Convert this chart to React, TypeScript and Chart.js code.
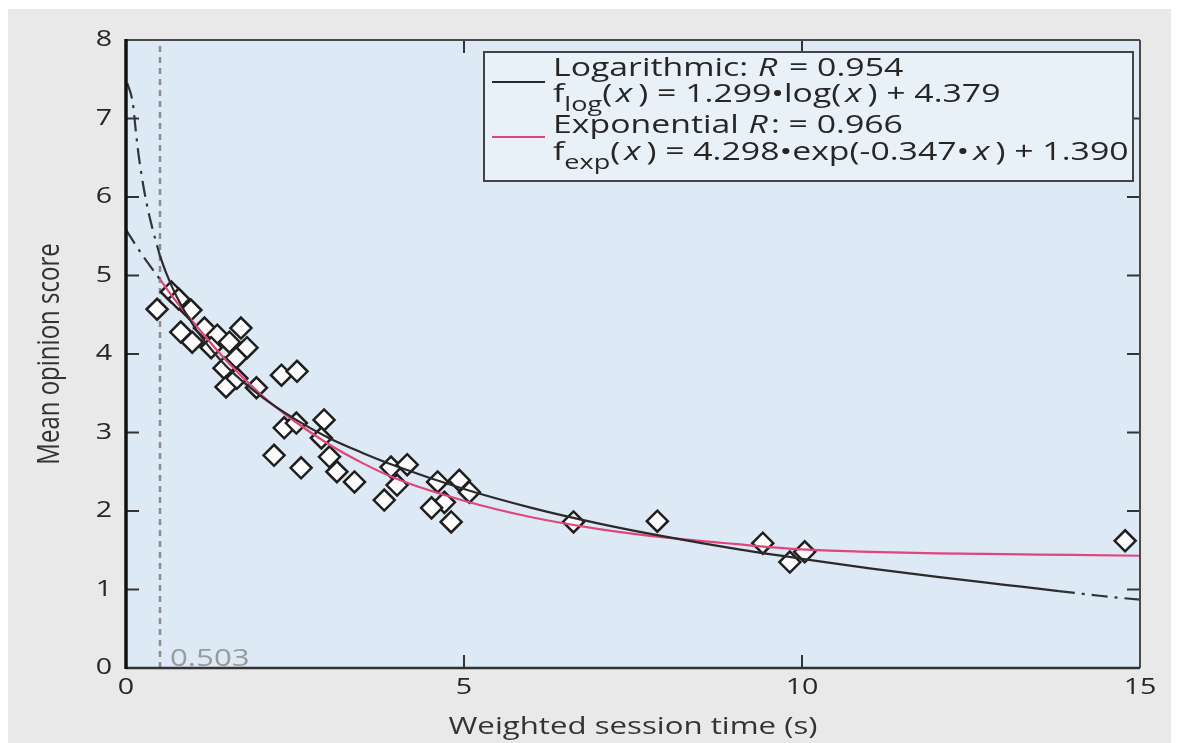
import React, { useEffect, useRef } from "react";
import { Chart, registerables } from "chart.js";

Chart.register(...registerables);

// ---------- data ----------
const sessionTime = [
  0.46, 0.67, 0.78, 0.96, 0.81, 0.98, 1.16, 1.35, 1.53, 1.7, 1.79, 1.63, 1.26, 1.45, 1.48, 1.93,
  1.64, 2.3, 2.53, 2.34, 2.52, 2.93, 2.89, 2.19, 2.59, 3.01, 3.12, 3.38, 3.92, 4.16, 4.01, 3.82,
  4.61, 4.93, 5.08, 4.71, 4.52, 4.81, 6.62, 7.86, 9.42, 10.04, 9.82, 14.78,
];
const opinionScore = [
  4.57, 4.79, 4.7, 4.56, 4.28, 4.15, 4.33, 4.24, 4.15, 4.33, 4.08, 3.95, 4.08, 3.82, 3.58, 3.57,
  3.69, 3.73, 3.78, 3.06, 3.12, 3.16, 2.93, 2.71, 2.55, 2.69, 2.5, 2.37, 2.56, 2.59, 2.33, 2.14,
  2.37, 2.39, 2.24, 2.11, 2.04, 1.86, 1.86, 1.87, 1.59, 1.48, 1.35, 1.62,
];

// logarithmic fit curve
const logX = [0.503, 0.6, 0.75, 1, 1.25, 1.5, 2, 2.5, 3, 3.5, 4, 5, 6, 7, 8, 9, 10, 11, 12, 13, 13.8];
const logY = [5.25, 5.02, 4.73, 4.36, 4.07, 3.83, 3.46, 3.17, 2.93, 2.74, 2.57, 2.28, 2.04, 1.84, 1.67, 1.52, 1.39, 1.27, 1.16, 1.06, 0.98];
const logLeftX = [0.02, 0.1, 0.15, 0.2, 0.3, 0.4, 0.503];
const logLeftY = [7.45, 7.2, 6.8, 6.45, 5.94, 5.57, 5.25];
const logRightX = [13.8, 14.4, 15];
const logRightY = [0.98, 0.92, 0.87];

// exponential fit curve
const expX = [0.503, 0.75, 1, 1.5, 2, 2.5, 3, 3.5, 4, 5, 6, 7, 8, 9, 10, 11, 12, 13, 14, 15];
const expY = [4.95, 4.66, 4.4, 3.9, 3.48, 3.14, 2.85, 2.61, 2.41, 2.13, 1.92, 1.77, 1.66, 1.58, 1.51, 1.48, 1.46, 1.45, 1.44, 1.43];
const expLeftX = [0, 0.25, 0.503];
const expLeftY = [5.58, 5.25, 4.95];

const xMin = 0;
const xMax = 15;
const xStep = 5;
const yMin = 0;
const yMax = 8;
const yStep = 1;

const xTitle = "Weighted session time (s)";
const yTitle = "Mean opinion score";
const threshold = 0.503;
const thresholdLabel = "0.503";

// legend lines: [text, style]  style: n = normal, i = italic, s = subscript
const legendLog1: [string, string][] = [["Logarithmic: ", "n"], ["R", "i"], [" = 0.954", "n"]];
const legendLog2: [string, string][] = [["f", "n"], ["log", "s"], ["(", "n"], ["x", "i"], [") = 1.299\u2022log(", "n"], ["x", "i"], [") + 4.379", "n"]];
const legendExp1: [string, string][] = [["Exponential ", "n"], ["R", "i"], [": = 0.966", "n"]];
const legendExp2: [string, string][] = [["f", "n"], ["exp", "s"], ["(", "n"], ["x", "i"], [") = 4.298\u2022exp(-0.347\u2022", "n"], ["x", "i"], [") + 1.390", "n"]];

// ---------- styles ----------
const FONT = '"Open Sans", "DejaVu Sans", sans-serif';
const SX = 1.3; // horizontal stretch of the reference text
const PLOT_BG = "#dde9f4";
const LEGEND_BG = "#e9f1f8";
const PAGE_BG = "#e9e9e9";
const PINK = "#e0457b";
const BLACK = "#2a2a2a";
const TEXT = "#262626";

function drawText(
  ctx: CanvasRenderingContext2D,
  text: string,
  x: number,
  y: number,
  size: number,
  color: string,
  align: "left" | "center" | "right",
  baseline: CanvasTextBaseline,
  italic = false
) {
  ctx.save();
  ctx.font = `${italic ? "italic " : ""}${size}px ${FONT}`;
  ctx.fillStyle = color;
  ctx.textBaseline = baseline;
  ctx.textAlign = "left";
  const w = ctx.measureText(text).width * SX;
  let left = x;
  if (align === "center") left = x - w / 2;
  else if (align === "right") left = x - w;
  ctx.translate(left, y);
  ctx.scale(SX, 1);
  ctx.fillText(text, 0, 0);
  ctx.restore();
  return w;
}

function drawRich(ctx: CanvasRenderingContext2D, parts: [string, string][], x: number, y: number, size: number) {
  let cx = x;
  for (const [t, s] of parts) {
    if (s === "s") {
      cx += drawText(ctx, t, cx, y + 9, size * 0.8, TEXT, "left", "alphabetic");
    } else if (s === "i") {
      const pad = t === "x" ? 4 : 1;
      cx += pad;
      cx += drawText(ctx, t, cx, y, size, TEXT, "left", "alphabetic", true);
      cx += pad + 2;
    } else {
      cx += drawText(ctx, t, cx, y, size, TEXT, "left", "alphabetic");
    }
  }
}

const decorPlugin = {
  id: "decor",
  beforeDraw(chart: any) {
    const { ctx, chartArea: a } = chart;
    ctx.save();
    ctx.fillStyle = PLOT_BG;
    ctx.fillRect(a.left, a.top, a.right - a.left, a.bottom - a.top);
    ctx.restore();
  },
  beforeDatasetsDraw(chart: any) {
    const { ctx, chartArea: a, scales } = chart;
    const px = scales.x.getPixelForValue(threshold);
    ctx.save();
    ctx.strokeStyle = "#8c8c8c";
    ctx.lineWidth = 2.5;
    ctx.setLineDash([6, 5]);
    ctx.beginPath();
    ctx.moveTo(px, a.bottom);
    ctx.lineTo(px, a.top);
    ctx.stroke();
    ctx.restore();
    drawText(ctx, thresholdLabel, px + 10, a.bottom - 2, 24, "#9a9a9a", "left", "alphabetic");
  },
  afterDraw(chart: any) {
    const { ctx, chartArea: a, scales } = chart;
    const xs = scales.x;
    const ys = scales.y;
    const line = (x1: number, y1: number, x2: number, y2: number) => {
      ctx.beginPath();
      ctx.moveTo(x1, y1);
      ctx.lineTo(x2, y2);
      ctx.stroke();
    };
    ctx.save();
    // inward tick marks
    ctx.strokeStyle = "#333";
    ctx.lineWidth = 2;
    ys.ticks.forEach((t: any) => {
      if (t.value <= yMin || t.value >= yMax) return;
      const py = ys.getPixelForValue(t.value);
      line(a.left, py, a.left + 13, py);
      line(a.right, py, a.right - 13, py);
    });
    xs.ticks.forEach((t: any) => {
      if (t.value <= xMin || t.value >= xMax) return;
      const px = xs.getPixelForValue(t.value);
      line(px, a.bottom, px, a.bottom - 13);
      line(px, a.top, px, a.top + 13);
    });
    // frame
    ctx.strokeStyle = "#4a4a4a";
    ctx.lineWidth = 2;
    line(a.left, a.top, a.right, a.top);
    line(a.right, a.top, a.right, a.bottom);
    ctx.strokeStyle = "#333";
    ctx.lineWidth = 2.5;
    line(a.left, a.bottom, a.right, a.bottom);
    ctx.strokeStyle = "#111";
    ctx.lineWidth = 3.5;
    line(a.left, a.top - 1, a.left, a.bottom + 1);
    ctx.restore();

    // tick labels
    ys.ticks.forEach((t: any) => {
      const py = ys.getPixelForValue(t.value);
      drawText(ctx, String(t.label ?? t.value), a.left - 14, py, 22, TEXT, "right", "middle");
    });
    xs.ticks.forEach((t: any) => {
      const px = xs.getPixelForValue(t.value);
      drawText(ctx, String(t.label ?? t.value), px, a.bottom + 9, 22, TEXT, "center", "top");
    });

    // axis titles
    drawText(ctx, xTitle, (a.left + a.right) / 2, a.bottom + 59, 24, "#333", "center", "middle");
    ctx.save();
    ctx.translate(42, (a.top + a.bottom) / 2);
    ctx.scale(SX, 1);
    ctx.rotate(-Math.PI / 2);
    ctx.font = `24px ${FONT}`;
    ctx.fillStyle = "#333";
    ctx.textAlign = "center";
    ctx.textBaseline = "middle";
    ctx.fillText(yTitle, 0, 0);
    ctx.restore();

    // legend box
    const bw = 649;
    const bh = 129;
    const bx = a.right - 7 - bw;
    const by = a.top + 12;
    ctx.save();
    ctx.fillStyle = LEGEND_BG;
    ctx.fillRect(bx, by, bw, bh);
    ctx.strokeStyle = "#444";
    ctx.lineWidth = 2;
    ctx.strokeRect(bx, by, bw, bh);
    ctx.lineWidth = 2.2;
    ctx.strokeStyle = BLACK;
    line(bx + 8, by + 30, bx + 61, by + 30);
    ctx.strokeStyle = PINK;
    line(bx + 8, by + 85, bx + 61, by + 85);
    ctx.restore();
    const tx = bx + 69;
    drawRich(ctx, legendLog1, tx, by + 24, 26);
    drawRich(ctx, legendLog2, tx, by + 50, 26);
    drawRich(ctx, legendExp1, tx, by + 81, 26);
    drawRich(ctx, legendExp2, tx, by + 108, 26);
  },
};

const pts = (xs: number[], ys: number[]) => xs.map((x, i) => ({ x, y: ys[i] }));

export default function App() {
  const ref = useRef<HTMLCanvasElement | null>(null);
  useEffect(() => {
    if (!ref.current) return;
    const dashDot = [16, 7, 3, 7];
    const curve = (data: any, color: string, dash: number[] | undefined) => ({
      data,
      showLine: true,
      borderColor: color,
      borderWidth: 2.2,
      borderDash: dash,
      pointRadius: 0,
      fill: false,
      cubicInterpolationMode: "monotone",
      order: 0,
    });
    const chart = new Chart(ref.current, {
      type: "scatter",
      data: {
        datasets: [
          curve(pts(logX, logY), BLACK, undefined),
          curve(pts(logLeftX, logLeftY), "#333", dashDot),
          curve(pts(logRightX, logRightY), "#333", dashDot),
          curve(pts(expX, expY), PINK, undefined),
          curve(pts(expLeftX, expLeftY), "#333", dashDot),
          {
            data: pts(sessionTime, opinionScore),
            pointStyle: "rectRot",
            pointRadius: 10.5,
            pointBorderWidth: 2.5,
            pointBorderColor: "#1e1e1e",
            pointBackgroundColor: "#fcfcfc",
            order: 1,
          } as any,
        ] as any,
      },
      options: {
        responsive: false,
        animation: false,
        devicePixelRatio: 1,
        layout: { padding: { top: 31, right: 31, left: 0, bottom: 0 } },
        plugins: { legend: { display: false }, tooltip: { enabled: false } },
        scales: {
          x: {
            type: "linear",
            min: xMin,
            max: xMax,
            ticks: { stepSize: xStep, display: false },
            grid: { display: false },
            border: { display: false },
            afterFit: (s: any) => {
              s.height = 75;
            },
          },
          y: {
            type: "linear",
            min: yMin,
            max: yMax,
            ticks: { stepSize: yStep, display: false },
            grid: { display: false },
            border: { display: false },
            afterFit: (s: any) => {
              s.width = 118;
            },
          },
        },
      } as any,
      plugins: [decorPlugin],
    });
    return () => chart.destroy();
  }, []);
  return (
    <div
      style={{
        position: "absolute",
        left: 8,
        top: 9,
        width: 1163,
        height: 734,
        background: PAGE_BG,
      }}
    >
      <canvas ref={ref} width={1163} height={734} style={{ display: "block" }} />
    </div>
  );
}
